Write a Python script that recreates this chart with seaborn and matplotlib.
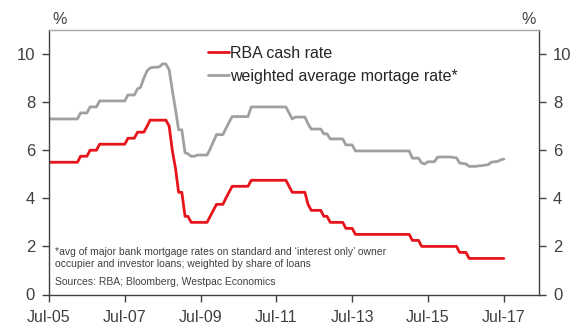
import matplotlib
matplotlib.use("Agg")
import matplotlib.pyplot as plt
import pandas as pd
import seaborn as sns

# Monthly observations, Jul 2005 to Jul 2017
start_month = "2005-07-01"
end_month = "2017-07-01"

cash_rate = [
    # 2005 Jul-Dec
    5.5, 5.5, 5.5, 5.5, 5.5, 5.5,
    # 2006
    5.5, 5.5, 5.5, 5.5, 5.75, 5.75, 5.75, 6.0, 6.0, 6.0, 6.25, 6.25,
    # 2007
    6.25, 6.25, 6.25, 6.25, 6.25, 6.25, 6.25, 6.5, 6.5, 6.5, 6.75, 6.75,
    # 2008
    6.75, 7.0, 7.25, 7.25, 7.25, 7.25, 7.25, 7.25, 7.0, 6.0, 5.25, 4.25,
    # 2009
    4.25, 3.25, 3.25, 3.0, 3.0, 3.0, 3.0, 3.0, 3.0, 3.25, 3.5, 3.75,
    # 2010
    3.75, 3.75, 4.0, 4.25, 4.5, 4.5, 4.5, 4.5, 4.5, 4.5, 4.75, 4.75,
    # 2011
    4.75, 4.75, 4.75, 4.75, 4.75, 4.75, 4.75, 4.75, 4.75, 4.75, 4.5, 4.25,
    # 2012
    4.25, 4.25, 4.25, 4.25, 3.75, 3.5, 3.5, 3.5, 3.5, 3.25, 3.25, 3.0,
    # 2013
    3.0, 3.0, 3.0, 3.0, 2.75, 2.75, 2.75, 2.5, 2.5, 2.5, 2.5, 2.5,
    # 2014
    2.5, 2.5, 2.5, 2.5, 2.5, 2.5, 2.5, 2.5, 2.5, 2.5, 2.5, 2.5,
    # 2015
    2.5, 2.25, 2.25, 2.25, 2.0, 2.0, 2.0, 2.0, 2.0, 2.0, 2.0, 2.0,
    # 2016
    2.0, 2.0, 2.0, 2.0, 1.75, 1.75, 1.75, 1.5, 1.5, 1.5, 1.5, 1.5,
    # 2017 Jan-Jul
    1.5, 1.5, 1.5, 1.5, 1.5, 1.5, 1.5,
]

mortgage_rate = [
    # 2005 Jul-Dec
    7.3, 7.3, 7.3, 7.3, 7.3, 7.3,
    # 2006
    7.3, 7.3, 7.3, 7.3, 7.55, 7.55, 7.55, 7.8, 7.8, 7.8, 8.05, 8.05,
    # 2007
    8.05, 8.05, 8.05, 8.05, 8.05, 8.05, 8.05, 8.3, 8.3, 8.3, 8.55, 8.62,
    # 2008
    9.0, 9.3, 9.42, 9.45, 9.45, 9.47, 9.6, 9.58, 9.35, 8.5, 7.7, 6.85,
    # 2009
    6.85, 5.9, 5.85, 5.75, 5.75, 5.8, 5.8, 5.8, 5.8, 6.05, 6.35, 6.65,
    # 2010
    6.65, 6.65, 6.9, 7.15, 7.4, 7.4, 7.4, 7.4, 7.4, 7.4, 7.8, 7.8,
    # 2011
    7.8, 7.8, 7.8, 7.8, 7.8, 7.8, 7.8, 7.8, 7.8, 7.8, 7.55, 7.3,
    # 2012
    7.38, 7.38, 7.38, 7.38, 7.1, 6.88, 6.88, 6.88, 6.88, 6.68, 6.68, 6.47,
    # 2013
    6.47, 6.47, 6.47, 6.47, 6.22, 6.22, 6.22, 5.97, 5.97, 5.97, 5.97, 5.97,
    # 2014
    5.97, 5.97, 5.97, 5.97, 5.97, 5.97, 5.97, 5.97, 5.97, 5.97, 5.97, 5.97,
    # 2015
    5.97, 5.67, 5.67, 5.67, 5.47, 5.43, 5.52, 5.52, 5.52, 5.71, 5.72, 5.72,
    # 2016
    5.72, 5.72, 5.7, 5.68, 5.47, 5.45, 5.43, 5.33, 5.33, 5.33, 5.35, 5.36,
    # 2017 Jan-Jul
    5.38, 5.4, 5.5, 5.52, 5.53, 5.6, 5.63,
]

series_names = ["RBA cash rate", "weighted average mortage rate*"]
series_colors = ["#e8141c", "#a0a0a0"]

y_ticks = [0, 2, 4, 6, 8, 10]
x_tick_labels = ["Jul-05", "Jul-07", "Jul-09", "Jul-11", "Jul-13", "Jul-15", "Jul-17"]

footnote_lines = [
    "*avg of major bank mortgage rates on standard and \u2018interest only\u2019 owner",
    "occupier and investor loans; weighted by share of loans",
]
source_line = "Sources: RBA; Bloomberg, Westpac Economics"

months = pd.date_range(start_month, end_month, freq="MS")
df = pd.concat([
    pd.DataFrame({"date": months, "rate": cash_rate, "series": series_names[0]}),
    pd.DataFrame({"date": months, "rate": mortgage_rate, "series": series_names[1]}),
])

sns.set_style("ticks")
plt.rcParams["font.family"] = ["Liberation Sans", "DejaVu Sans"]

text_color = "#404040"
spine_color = "#404040"

fig = plt.figure(figsize=(5.74, 3.25), dpi=100)
ax = fig.add_axes([49 / 574, 1 - 294.5 / 325, 490 / 574, 264.5 / 325])

sns.lineplot(data=df, x="date", y="rate", hue="series", hue_order=series_names,
             palette=series_colors, linewidth=2.0, ax=ax, legend=True)

ax.set_ylim(0, 11)
ax.set_xlim(pd.Timestamp("2005-07-01"), pd.Timestamp("2018-06-05"))
ax.set_yticks(y_ticks)
ax.set_yticklabels([str(v) for v in y_ticks])
tick_dates = [pd.Timestamp(f"20{lbl[-2:]}-07-01") for lbl in x_tick_labels]
ax.set_xticks(tick_dates)
ax.set_xticklabels(x_tick_labels)
ax.set_xlabel("")
ax.set_ylabel("")

ax.tick_params(axis="y", which="both", left=True, right=True, labelleft=True, labelright=True,
               direction="out", length=5, width=1, color=spine_color, pad=5,
               labelsize=12, labelcolor=text_color)
ax.tick_params(axis="x", direction="out", length=5, width=1, color=spine_color, pad=6,
               labelsize=11.5, labelcolor=text_color)

for side in ["left", "right", "bottom"]:
    ax.spines[side].set_visible(True)
    ax.spines[side].set_color(spine_color)
    ax.spines[side].set_linewidth(1.0)
ax.spines["top"].set_visible(True)
ax.spines["top"].set_color("#a6a6a6")
ax.spines["top"].set_linewidth(1.0)

leg = ax.legend(loc="upper left", bbox_to_anchor=(0.325, 0.94), frameon=False,
                handlelength=1.3, handletextpad=0.05, labelspacing=0.5,
                borderaxespad=0, borderpad=0, fontsize=11.5)
for txt in leg.get_texts():
    txt.set_color("#262626")

fig.text(60 / 574, 1 - 20 / 325, "%", ha="center", va="center", fontsize=11.5, color=text_color)
fig.text(529 / 574, 1 - 20 / 325, "%", ha="center", va="center", fontsize=11.5, color=text_color)

note_x = pd.Timestamp("2005-09-01")
ax.text(note_x, 1.77, footnote_lines[0], fontsize=7.5, color="#404040", va="center", ha="left")
ax.text(note_x, 1.27, footnote_lines[1], fontsize=7.5, color="#404040", va="center", ha="left")
ax.text(note_x, 0.52, source_line, fontsize=7.5, color="#404040", va="center", ha="left")

fig.savefig("out.png", dpi=100)
